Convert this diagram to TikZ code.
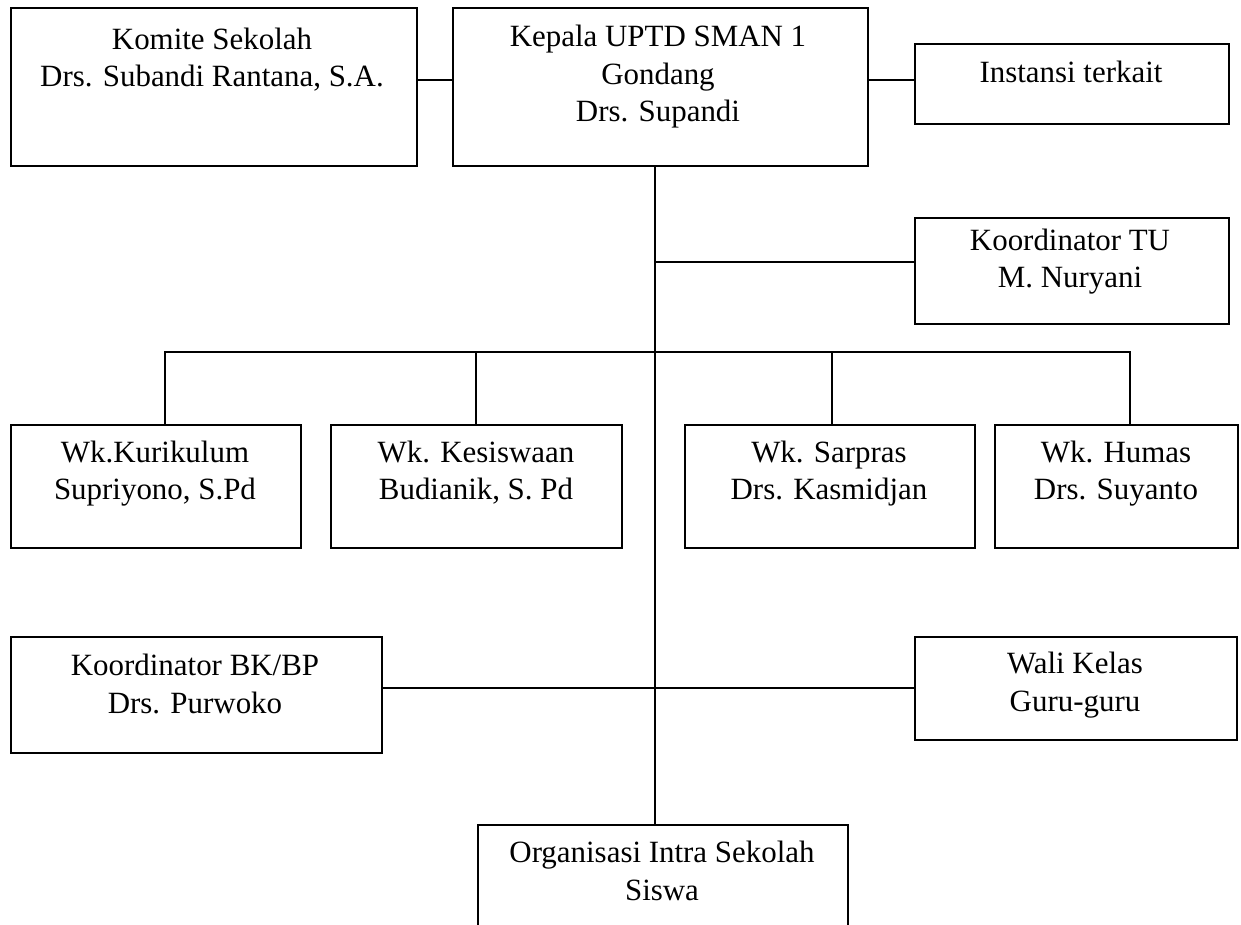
\documentclass[tikz,border=0pt]{standalone}
\usepackage{fontspec}
\setmainfont{Liberation Serif}
\begin{document}
\begin{tikzpicture}[x=0.02cm,y=-0.02cm,
  box/.style={draw, line width=0.9pt, rectangle, inner sep=0pt, anchor=north west},
  txt/.style={align=center, inner sep=0pt, anchor=base, font=\fontsize{17.6}{21.5}\selectfont},
  conn/.style={line width=0.9pt}]
\useasboundingbox (0,0) rectangle (1241,925);
\clip (0,0) rectangle (1241,925);
% boxes
\node[box, minimum width=8.12cm, minimum height=3.16cm] (komite) at (10,7) {};
\node[box, minimum width=8.30cm, minimum height=3.16cm] (kepala) at (452,7) {};
\node[box, minimum width=6.28cm, minimum height=1.60cm] (instansi) at (914,43) {};
\node[box, minimum width=6.28cm, minimum height=2.12cm] (tu) at (914,217) {};
\node[box, minimum width=5.80cm, minimum height=2.46cm] (kur) at (10,424) {};
\node[box, minimum width=5.82cm, minimum height=2.46cm] (kes) at (330,424) {};
\node[box, minimum width=5.80cm, minimum height=2.46cm] (sar) at (684,424) {};
\node[box, minimum width=4.86cm, minimum height=2.46cm] (hum) at (994,424) {};
\node[box, minimum width=7.42cm, minimum height=2.32cm] (bk) at (10,636) {};
\node[box, minimum width=6.44cm, minimum height=2.06cm] (wali) at (914,636) {};
\node[box, minimum width=7.40cm, minimum height=2.50cm] (org) at (477,824) {};
% texts (anchored at the baseline of the last line)
\node[txt] (tkomite) at (212,87) {Komite Sekolah\\Drs. Subandi Rantana, S.A.};
\node[txt] (tkepala) at (658,122) {Kepala UPTD SMAN 1\\Gondang\\Drs. Supandi};
\node[txt] (tinstansi) at (1071,83) {Instansi terkait};
\node[txt] (ttu) at (1070,288) {Koordinator TU\\M. Nuryani};
\node[txt] (tkur) at (155,500) {Wk.Kurikulum\\Supriyono, S.Pd};
\node[txt] (tkes) at (476,500) {Wk. Kesiswaan\\Budianik, S. Pd};
\node[txt] (tsar) at (829,500) {Wk. Sarpras\\Drs. Kasmidjan};
\node[txt] (thum) at (1116,500) {Wk. Humas\\Drs. Suyanto};
\node[txt] (tbk) at (195,713) {Koordinator BK/BP\\Drs. Purwoko};
\node[txt] (twali) at (1075,711) {Wali Kelas\\Guru-guru};
\node[txt] (torg) at (662,900) {Organisasi Intra Sekolah\\Siswa};
% helper coordinates
\coordinate (ytop) at (0,80);
\coordinate (trunk) at (655,0);
\coordinate (ytu) at (0,262);
\coordinate (ybar) at (0,352);
\coordinate (d1) at (165,0);
\coordinate (d2) at (476,0);
\coordinate (d3) at (832,0);
\coordinate (d4) at (1130,0);
\coordinate (ybk) at (0,688);
% connectors
\draw[conn] (komite.east |- ytop) -- (kepala.west |- ytop);
\draw[conn] (kepala.east |- ytop) -- (instansi.west |- ytop);
\draw[conn] (kepala.south -| trunk) -- (org.north -| trunk);
\draw[conn] (trunk |- ytu) -- (tu.west |- ytu);
\draw[conn] (kur.north -| d1) -- (d1 |- ybar) -- (d4 |- ybar) -- (hum.north -| d4);
\draw[conn] (d2 |- ybar) -- (kes.north -| d2);
\draw[conn] (d3 |- ybar) -- (sar.north -| d3);
\draw[conn] (bk.east |- ybk) -- (wali.west |- ybk);
\end{tikzpicture}
\end{document}
